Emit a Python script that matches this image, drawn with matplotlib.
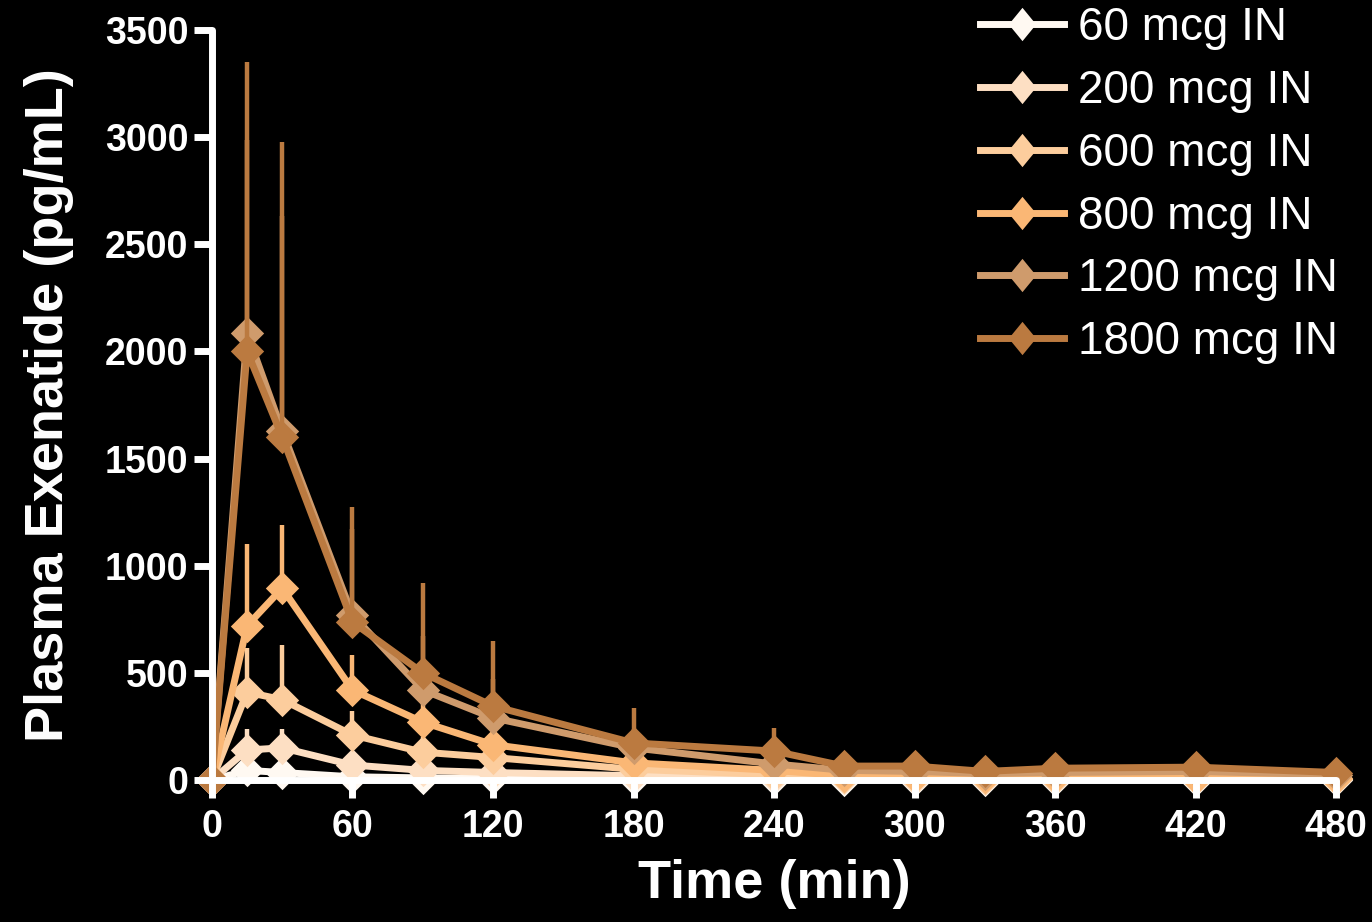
import matplotlib
matplotlib.use("Agg")
import matplotlib.pyplot as plt
from matplotlib.path import Path
from matplotlib.lines import Line2D
import numpy as np

# Sampling times (min)
time_min = [0, 15, 30, 60, 90, 120, 180, 240, 270, 300, 330, 360, 420, 480]

doses = ["60 mcg IN", "200 mcg IN", "600 mcg IN", "800 mcg IN", "1200 mcg IN", "1800 mcg IN"]
colors = ["#FFF9F2", "#FDDFC3", "#FCCD9D", "#FAB775", "#CF9B6C", "#BB7A40"]

# Mean plasma exenatide (pg/mL)
mean_60 = [0, 45, 35, 15, 10, 8, 5, 3, 2, 2, 2, 2, 2, 2]
mean_200 = [0, 140, 150, 70, 45, 35, 20, 12, 8, 6, 5, 5, 4, 3]
mean_600 = [0, 410, 375, 210, 130, 105, 50, 25, 15, 12, 10, 10, 8, 6]
mean_800 = [0, 720, 895, 420, 270, 165, 80, 45, 20, 15, 12, 12, 10, 8]
mean_1200 = [0, 2085, 1630, 770, 420, 290, 150, 75, 45, 40, 30, 35, 40, 25]
mean_1800 = [0, 2000, 1600, 737, 500, 345, 173, 135, 65, 65, 40, 55, 60, 35]

# Upper error (SD)
sd_60 = [0, 20, 15, 8, 5, 4, 3, 2, 1, 1, 1, 1, 1, 1]
sd_200 = [0, 100, 90, 40, 25, 20, 10, 6, 4, 3, 3, 3, 2, 2]
sd_600 = [0, 205, 255, 110, 70, 50, 25, 12, 8, 6, 5, 5, 4, 3]
sd_800 = [0, 380, 295, 165, 110, 70, 40, 20, 10, 8, 6, 6, 5, 4]
sd_1200 = [0, 900, 1000, 400, 250, 180, 90, 50, 20, 15, 10, 15, 15, 10]
sd_1800 = [0, 1350, 1375, 538, 420, 305, 162, 110, 30, 30, 20, 25, 25, 15]

means = [mean_60, mean_200, mean_600, mean_800, mean_1200, mean_1800]
sds = [sd_60, sd_200, sd_600, sd_800, sd_1200, sd_1800]

x_ticks = [0, 60, 120, 180, 240, 300, 360, 420, 480]
y_ticks = [0, 500, 1000, 1500, 2000, 2500, 3000, 3500]


def diamond_path(half_width):
    return Path([(0, 1), (half_width, 0), (0, -1), (-half_width, 0), (0, 1)],
                [Path.MOVETO, Path.LINETO, Path.LINETO, Path.LINETO, Path.CLOSEPOLY])


plot_diamond = diamond_path(1.0)
legend_diamond = diamond_path(0.82)

plt.rcParams["font.family"] = ["Liberation Sans", "DejaVu Sans"]

fig = plt.figure(figsize=(13.72, 9.22), dpi=100, facecolor="black")
ax = fig.add_axes([0.1545, 0.154, 0.8193, 0.8135], facecolor="black")

handles = []
for label, color, m, s in zip(doses, colors, means, sds):
    m = np.asarray(m, dtype=float)
    s = np.asarray(s, dtype=float)
    ax.errorbar(time_min, m, yerr=[np.zeros_like(s), s], fmt="none",
                ecolor=color, elinewidth=3.2, capsize=0, clip_on=False)
    ax.plot(time_min, m, color=color, lw=5, marker=plot_diamond, ms=24,
            markerfacecolor=color, markeredgecolor=color, mew=0,
            clip_on=False, solid_joinstyle="round")
    handles.append(Line2D([], [], color=color, lw=5, marker=legend_diamond, ms=24,
                          markerfacecolor=color, markeredgecolor=color, mew=0,
                          label=label))

ax.set_xlim(0, 480)
ax.set_ylim(0, 3500)
ax.set_xticks(x_ticks)
ax.set_yticks(y_ticks)

for side in ("top", "right"):
    ax.spines[side].set_visible(False)
for side in ("left", "bottom"):
    ax.spines[side].set_color("white")
    ax.spines[side].set_linewidth(5)
    ax.spines[side].set_capstyle("round")
    ax.spines[side].set_zorder(10)
ax.xaxis.set_zorder(10)
ax.yaxis.set_zorder(10)

ax.tick_params(axis="both", colors="white", width=5, length=13, direction="out")
ax.tick_params(axis="x", pad=8)
ax.tick_params(axis="y", pad=4)
for lab in ax.get_xticklabels() + ax.get_yticklabels():
    lab.set_fontsize(27)
    lab.set_fontweight("bold")
    lab.set_color("white")

ax.set_xlabel("Time (min)", fontsize=39, fontweight="bold", color="white", labelpad=10)
ax.set_ylabel("Plasma Exenatide (pg/mL)", fontsize=39, fontweight="bold", color="white", labelpad=22)

leg = ax.legend(handles=handles, loc="upper right", bbox_to_anchor=(1.018, 1.056),
                frameon=False, fontsize=33, handlelength=1.83, handletextpad=0.3,
                labelspacing=0.41, borderaxespad=0.0)
for t in leg.get_texts():
    t.set_color("white")

fig.savefig("out.png", dpi=100, facecolor="black")
